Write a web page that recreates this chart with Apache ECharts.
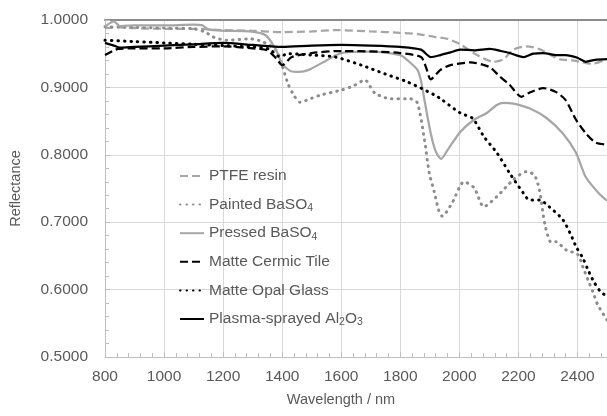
<!DOCTYPE html>
<html>
<head>
<meta charset="utf-8">
<script src="https://cdn.jsdelivr.net/npm/echarts@6/dist/echarts.min.js"></script>
<style>
html, body { margin: 0; padding: 0; background: #ffffff; }
#chart { width: 607px; height: 416px; }
</style>
</head>
<body>
<div id="chart"></div>
<script>
// values, wavelength (nm) / reflectance
const ptfeWl = [800, 850, 900, 1000, 1100, 1200, 1300, 1400, 1500, 1580, 1700, 1800, 1860, 1915, 1960, 2003, 2060, 2116, 2150, 2183, 2227, 2270, 2338, 2385, 2450, 2500]
const ptfeR = [0.988, 0.989, 0.988, 0.987, 0.987, 0.985, 0.984, 0.982, 0.983, 0.985, 0.983, 0.981, 0.979, 0.975, 0.972, 0.964, 0.948, 0.938, 0.942, 0.956, 0.961, 0.957, 0.942, 0.940, 0.935, 0.942]

const paintedWl = [800, 900, 1000, 1100, 1140, 1165, 1210, 1290, 1333, 1380, 1400, 1420, 1440, 1460, 1500, 1533, 1600, 1640, 1680, 1713, 1768, 1835, 1858, 1882, 1898, 1915, 1930, 1942, 1976, 2016, 2050, 2083, 2127, 2183, 2227, 2254, 2271, 2290, 2311, 2327, 2361, 2401, 2418, 2435, 2452, 2468, 2500]
const paintedR = [0.990, 0.989, 0.988, 0.987, 0.982, 0.975, 0.970, 0.972, 0.968, 0.955, 0.932, 0.905, 0.888, 0.878, 0.884, 0.889, 0.896, 0.902, 0.911, 0.892, 0.883, 0.883, 0.877, 0.822, 0.773, 0.745, 0.718, 0.709, 0.729, 0.760, 0.751, 0.723, 0.738, 0.763, 0.775, 0.770, 0.748, 0.696, 0.670, 0.671, 0.659, 0.652, 0.634, 0.615, 0.597, 0.578, 0.555]

const pressedWl = [800, 815, 830, 850, 900, 1000, 1100, 1130, 1150, 1200, 1290, 1345, 1380, 1400, 1430, 1457, 1490, 1550, 1600, 1690, 1800, 1825, 1858, 1870, 1882, 1903, 1920, 1938, 1960, 2003, 2050, 2093, 2127, 2150, 2183, 2237, 2294, 2350, 2395, 2428, 2472, 2500]
const pressedR = [0.990, 0.995, 0.998, 0.991, 0.992, 0.992, 0.993, 0.992, 0.986, 0.984, 0.983, 0.977, 0.955, 0.935, 0.924, 0.923, 0.926, 0.940, 0.951, 0.953, 0.948, 0.940, 0.926, 0.910, 0.881, 0.832, 0.805, 0.794, 0.807, 0.834, 0.852, 0.862, 0.874, 0.877, 0.876, 0.869, 0.855, 0.832, 0.803, 0.767, 0.743, 0.732]

const tileWl = [800, 830, 845, 900, 1000, 1100, 1200, 1300, 1350, 1380, 1400, 1433, 1500, 1600, 1725, 1800, 1870, 1887, 1903, 1936, 1970, 2037, 2103, 2137, 2170, 2210, 2237, 2284, 2328, 2360, 2395, 2428, 2462, 2500]
const tileR = [0.948, 0.955, 0.957, 0.958, 0.958, 0.960, 0.961, 0.958, 0.955, 0.943, 0.933, 0.945, 0.951, 0.954, 0.953, 0.951, 0.945, 0.930, 0.912, 0.926, 0.933, 0.937, 0.930, 0.916, 0.904, 0.886, 0.892, 0.899, 0.893, 0.881, 0.852, 0.832, 0.818, 0.815]

const opalWl = [800, 900, 1000, 1100, 1200, 1300, 1356, 1390, 1423, 1500, 1580, 1668, 1748, 1825, 1915, 1940, 2003, 2045, 2083, 2127, 2170, 2217, 2237, 2271, 2304, 2350, 2378, 2395, 2418, 2435, 2455, 2478, 2500]
const opalR = [0.970, 0.968, 0.966, 0.964, 0.962, 0.960, 0.957, 0.946, 0.950, 0.948, 0.945, 0.933, 0.920, 0.908, 0.889, 0.882, 0.862, 0.854, 0.827, 0.803, 0.773, 0.743, 0.733, 0.733, 0.723, 0.704, 0.681, 0.664, 0.647, 0.630, 0.612, 0.597, 0.590]

const plasmaWl = [800, 830, 850, 900, 1000, 1100, 1200, 1300, 1400, 1500, 1600, 1700, 1800, 1870, 1903, 1936, 1970, 2003, 2050, 2103, 2140, 2170, 2217, 2250, 2284, 2330, 2360, 2400, 2428, 2460, 2500]
const plasmaR = [0.966, 0.962, 0.959, 0.960, 0.962, 0.964, 0.966, 0.963, 0.960, 0.962, 0.963, 0.962, 0.960, 0.956, 0.945, 0.948, 0.952, 0.956, 0.955, 0.957, 0.954, 0.951, 0.945, 0.950, 0.951, 0.948, 0.948, 0.944, 0.938, 0.941, 0.942]

const legendNames = {
    'PTFE resin': 'PTFE resin',
    'Painted BaSO4': 'Painted BaSO{s|4}',
    'Pressed BaSO4': 'Pressed BaSO{s|4}',
    'Matte Cermic Tile': 'Matte Cermic Tile',
    'Matte Opal Glass': 'Matte Opal Glass',
    'Plasma-sprayed Al2O3': 'Plasma-sprayed Al{s|2}O{s|3}'
}

const font = '"Liberation Sans", Arial, sans-serif'
const dots = [0.5, 6]

function pairs(wl, r){
    const out = []
    for(let i = 0; i < wl.length; i++){
        out.push([wl[i], r[i]])
    }
    return out
}

function makeSeries(name, wl, r, color, type, width){
    return {
        name: name,
        type: 'line',
        symbol: 'circle',
        showSymbol: false,
        smooth: 0.25,
        animation: false,
        lineStyle: { color: color, width: width, type: type, cap: type === dots ? 'round' : 'butt' },
        itemStyle: { color: color },
        data: pairs(wl, r)
    }
}

const chart = echarts.init(document.getElementById('chart'))
chart.setOption({
    backgroundColor: '#ffffff',
    textStyle: { fontFamily: font },
    grid: { left: 104, top: 20, width: 507, height: 337 },
    legend: {
        orient: 'vertical',
        left: 179,
        top: 167,
        padding: 0,
        itemWidth: 24,
        itemHeight: 14,
        itemGap: 10.6,
        data: Object.keys(legendNames),
        itemStyle: { opacity: 0, borderWidth: 0 },
        formatter: function(name){ return legendNames[name] },
        textStyle: {
            fontFamily: font,
            fontSize: 15.5,
            lineHeight: 18,
            color: '#595959',
            rich: {
                s: { fontFamily: font, fontSize: 10.5, lineHeight: 10, color: '#595959', verticalAlign: 'bottom' }
            }
        }
    },
    xAxis: [{
        type: 'value',
        min: 800,
        max: 2500,
        interval: 200,
        axisLine: { lineStyle: { color: '#bfbfbf', width: 1 } },
        axisTick: { show: true, inside: true, length: 5, lineStyle: { color: '#bfbfbf' } },
        minorTick: { show: true, splitNumber: 5, length: 4, lineStyle: { color: '#bfbfbf' } },
        axisLabel: {
            fontSize: 15.5, color: '#595959', margin: 12, showMaxLabel: false, fontFamily: font,
            formatter: function(v){ return String(v) }
        },
        splitLine: { show: true, lineStyle: { color: '#d9d9d9', width: 1 } }
    }, {
        type: 'value',
        position: 'top',
        min: 800,
        max: 2500,
        interval: 200,
        axisLine: { show: true, lineStyle: { color: '#8c8c8c', width: 2 } },
        axisTick: { show: false },
        axisLabel: { show: false },
        splitLine: { show: false }
    }],
    yAxis: {
        type: 'value',
        min: 0.5,
        max: 1.0,
        interval: 0.1,
        name: 'Reflectance',
        nameLocation: 'middle',
        nameGap: 82,
        nameTextStyle: { fontSize: 14.5, color: '#595959', fontFamily: font },
        axisLine: { show: true, lineStyle: { color: '#bfbfbf', width: 1 } },
        axisTick: { show: true, inside: true, length: 5, lineStyle: { color: '#bfbfbf' } },
        minorTick: { show: true, splitNumber: 5, length: 4, lineStyle: { color: '#bfbfbf' } },
        axisLabel: {
            fontSize: 15.5,
            color: '#595959',
            margin: 17,
            fontFamily: font,
            formatter: function(v){ return v.toFixed(4) }
        },
        splitLine: { show: true, lineStyle: { color: '#d9d9d9', width: 1 } }
    },
    graphic: [{
        type: 'text',
        x: 341,
        y: 400,
        style: {
            text: 'Wavelength / nm',
            fill: '#595959',
            font: '14.5px ' + font,
            textAlign: 'center',
            textVerticalAlign: 'middle'
        }
    }],
    series: [
        makeSeries('PTFE resin', ptfeWl, ptfeR, '#a6a6a6', [8, 4], 2.25),
        makeSeries('Painted BaSO4', paintedWl, paintedR, '#8c8c8c', dots, 3),
        makeSeries('Pressed BaSO4', pressedWl, pressedR, '#a6a6a6', 'solid', 2.25),
        makeSeries('Matte Cermic Tile', tileWl, tileR, '#000000', [8, 4], 2.25),
        makeSeries('Matte Opal Glass', opalWl, opalR, '#000000', dots, 3),
        makeSeries('Plasma-sprayed Al2O3', plasmaWl, plasmaR, '#000000', 'solid', 2.25)
    ]
})
</script>
</body>
</html>
